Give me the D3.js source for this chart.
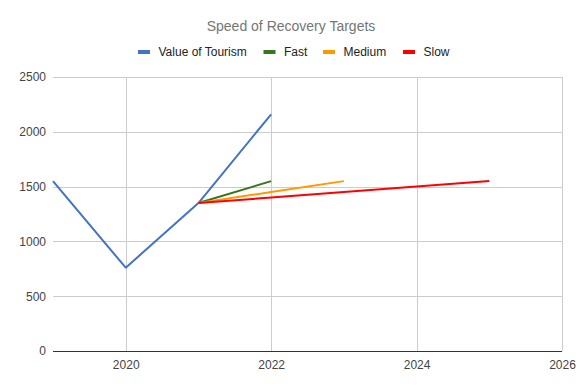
<!DOCTYPE html>
<html>
<head>
<meta charset="utf-8">
<script src="https://cdn.jsdelivr.net/npm/d3@7"></script>
<style>
  html, body { margin: 0; padding: 0; background: #fff; }
  svg { display: block; font-family: "Liberation Sans", Arial, sans-serif; }
</style>
</head>
<body>
<svg id="chart" width="582" height="389"></svg>
<script>
const title = "Speed of Recovery Targets";
const seriesNames = ["Value of Tourism", "Fast", "Medium", "Slow"];
const seriesColors = ["#4472c4", "#38761d", "#ff9900", "#ff0000"];
const tourismYears = [2019, 2020, 2021, 2022];
const tourismValues = [1550, 760, 1350, 2160];
const fastYears = [2021, 2022];
const fastValues = [1350, 1550];
const mediumYears = [2021, 2022, 2023];
const mediumValues = [1350, 1450, 1550];
const slowYears = [2021, 2022, 2023, 2024, 2025];
const slowValues = [1350, 1400, 1450, 1500, 1550];
const xTicks = [2020, 2022, 2024, 2026];
const yTicks = [0, 500, 1000, 1500, 2000, 2500];

(function () {
const series = [
  { name: seriesNames[0], color: seriesColors[0], years: tourismYears, values: tourismValues },
  { name: seriesNames[1], color: seriesColors[1], years: fastYears, values: fastValues },
  { name: seriesNames[2], color: seriesColors[2], years: mediumYears, values: mediumValues },
  { name: seriesNames[3], color: seriesColors[3], years: slowYears, values: slowValues }
];

const svg = d3.select("#chart");
const pLeft = 53, pRight = 562, pTop = 77, pBottom = 351;

const x = d3.scaleLinear().domain([2019, 2026]).range([pLeft, pRight]);
const y = d3.scaleLinear().domain([0, 2500]).range([pBottom, pTop]);

// horizontal gridlines
svg.append("g")
  .selectAll("line")
  .data(yTicks.filter(d => d !== 0))
  .join("line")
  .attr("x1", pLeft).attr("x2", pRight)
  .attr("y1", d => Math.round(y(d)) + 0.5).attr("y2", d => Math.round(y(d)) + 0.5)
  .attr("stroke", "#cccccc").attr("stroke-width", 1);

// vertical gridlines
svg.append("g")
  .selectAll("line")
  .data(xTicks)
  .join("line")
  .attr("x1", d => Math.round(x(d)) + 0.5).attr("x2", d => Math.round(x(d)) + 0.5)
  .attr("y1", pTop).attr("y2", pBottom)
  .attr("stroke", "#cccccc").attr("stroke-width", 1);

// y axis labels
const yAxis = d3.axisLeft(y).tickValues(yTicks).tickSize(0).tickPadding(7).tickFormat(d3.format("d"));
const gy = svg.append("g").attr("transform", `translate(${pLeft},0)`).call(yAxis);
gy.select(".domain").remove();
gy.selectAll("text").attr("font-size", 12).attr("fill", "#444444")
  .attr("font-family", "'Liberation Sans', Arial, sans-serif");

// x axis labels
const xAxis = d3.axisBottom(x).tickValues(xTicks).tickSize(0).tickPadding(9).tickFormat(d3.format("d"));
const gx = svg.append("g").attr("transform", `translate(0,${pBottom})`).call(xAxis);
gx.select(".domain").remove();
gx.selectAll("text").attr("font-size", 12).attr("fill", "#444444")
  .attr("font-family", "'Liberation Sans', Arial, sans-serif");

// baseline
svg.append("line")
  .attr("x1", pLeft).attr("x2", pRight)
  .attr("y1", Math.round(y(0)) + 0.5).attr("y2", Math.round(y(0)) + 0.5)
  .attr("stroke", "#333333").attr("stroke-width", 1);

// lines
const line = d3.line().x(d => x(d[0])).y(d => y(d[1]));
svg.append("g")
  .selectAll("path")
  .data(series)
  .join("path")
  .attr("d", s => line(s.years.map((yr, i) => [yr, s.values[i]])))
  .attr("fill", "none")
  .attr("stroke", s => s.color)
  .attr("stroke-width", 2)
  .attr("stroke-linejoin", "round");

// title
svg.append("text")
  .attr("x", 291).attr("y", 31)
  .attr("text-anchor", "middle")
  .attr("font-size", 14)
  .attr("fill", "#757575")
  .text(title);

// legend
const legendX = [138, 263.5, 323, 403];
const lg = svg.append("g");
series.forEach((s, i) => {
  lg.append("rect")
    .attr("x", legendX[i]).attr("y", 50).attr("width", 12).attr("height", 4)
    .attr("fill", s.color);
  lg.append("text")
    .attr("x", legendX[i] + 20.5).attr("y", 56)
    .attr("font-size", 12).attr("fill", "#222222")
    .text(s.name);
});
})();
</script>
</body>
</html>
